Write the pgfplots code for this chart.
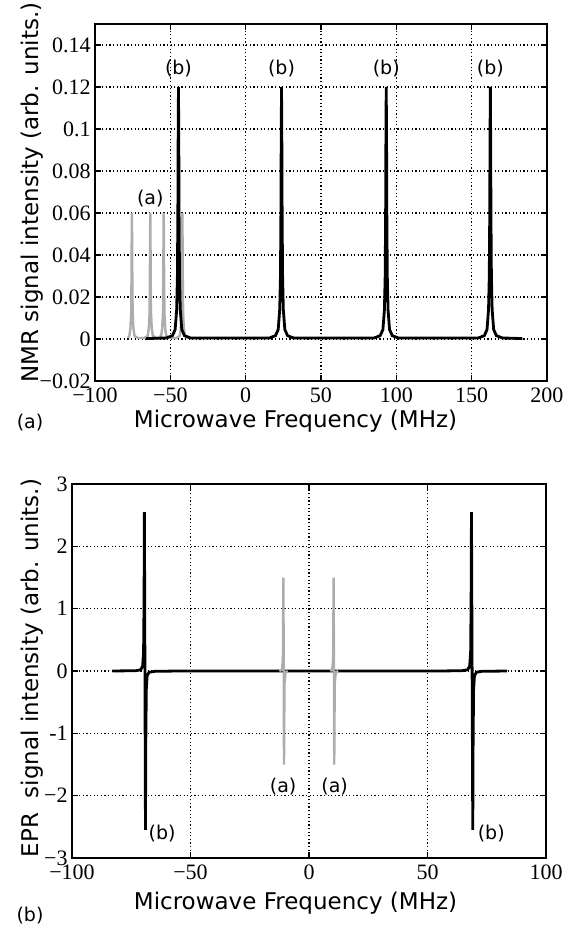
\documentclass[border=0pt]{standalone}
\usepackage{fontspec}
\setmainfont{Liberation Serif}
\newfontfamily\lblfont{DejaVu Sans}
\usepackage{pgfplots}
\pgfplotsset{compat=1.18}
\definecolor{ltgray}{HTML}{ADADAD}

\pgfplotsset{
  matstyle/.style={
    scale only axis,
    axis line style={line width=1.3pt},
    tick align=inside, tick pos=both,
    major tick length=3pt,
    every tick/.style={black, line width=0.7pt},
    grid=major,
    major grid style={black, line width=0.6pt, dash pattern=on 0.6pt off 1.2pt},
    tick label style={font=\fontsize{11}{13}\selectfont, inner sep=1pt},
    xticklabel style={yshift=-2pt},
    yticklabel style={xshift=-1pt},
    /pgf/number format/assume math mode=true,
    label style={font=\lblfont\fontsize{11.5}{13}\selectfont},
  }
}

\begin{document}
\begin{tikzpicture}
\useasboundingbox (0,0) rectangle (289.5pt,-464pt);

% ---- (a) NMR spectrum ----
\begin{axis}[matstyle,
  at={(47.5pt,-12pt)}, anchor=north west,
  width=226pt, height=178.5pt,
  xmin=-100, xmax=200, ymin=-0.02, ymax=0.15,
  xtick={-100,-50,0,50,100,150,200},
  xticklabels={−100,−50,0,50,100,150,200},
  ytick={-0.02,0,0.02,0.04,0.06,0.08,0.1,0.12,0.14},
  yticklabels={−0.02,0,0.02,0.04,0.06,0.08,0.1,0.12,0.14},
  xlabel={Microwave Frequency (MHz)},
  ylabel={NMR signal intensity (arb. units.)},
  xlabel style={at={(axis description cs:0.4436,-0.112)}, anchor=center},
  ylabel style={at={(axis description cs:-0.139,0.528)}, anchor=center},
]
\addplot[ltgray, line width=1.2pt] coordinates {
 (-78,0.0004) (-77.2,0.0015) (-76.5,0.005) (-76.0,0.012) (-75.8,0.026) (-75.65,0.045) (-75.5,0.06)
 (-75.35,0.045) (-75.2,0.026) (-75.0,0.012) (-74.5,0.005) (-73.8,0.0015) (-71.5,0.0005)
 (-67.3,0.0005) (-65.0,0.0015) (-64.3,0.005) (-63.8,0.012) (-63.6,0.026) (-63.45,0.045) (-63.3,0.06)
 (-63.15,0.045) (-63.0,0.026) (-62.8,0.012) (-62.3,0.005) (-61.6,0.0015) (-59.3,0.0005)
 (-58.4,0.0005) (-56.1,0.0015) (-55.4,0.005) (-54.9,0.012) (-54.7,0.026) (-54.55,0.045) (-54.4,0.06)
 (-54.25,0.045) (-54.1,0.026) (-53.9,0.012) (-53.4,0.005) (-52.7,0.0015) (-50.4,0.0005)
 (-46.0,0.0005) (-43.7,0.0015) (-43.0,0.005) (-42.5,0.012) (-42.3,0.026) (-42.15,0.045) (-42.0,0.06)
 (-41.85,0.045) (-41.7,0.026) (-41.5,0.012) (-41.0,0.005) (-40.3,0.0015) (-38,0.0004)
};
\addplot[black, line width=1.4pt] coordinates {
 (-66,0.0002)
 (-52.6,0.0005) (-48.6,0.0016) (-46.8,0.0045) (-45.8,0.014) (-45.3,0.03) (-45.0,0.06) (-44.8,0.097) (-44.6,0.12)
 (-44.4,0.097) (-44.2,0.06) (-43.9,0.03) (-43.4,0.014) (-42.4,0.0045) (-40.6,0.0016) (-36.6,0.0005)
 (15.8,0.0005) (19.8,0.0016) (21.6,0.0045) (22.6,0.014) (23.1,0.03) (23.4,0.06) (23.6,0.097) (23.8,0.12)
 (24.0,0.097) (24.2,0.06) (24.5,0.03) (25.0,0.014) (26.0,0.0045) (27.8,0.0016) (31.8,0.0005)
 (85.3,0.0005) (89.3,0.0016) (91.1,0.0045) (92.1,0.014) (92.6,0.03) (92.9,0.06) (93.1,0.097) (93.3,0.12)
 (93.5,0.097) (93.7,0.06) (94.0,0.03) (94.5,0.014) (95.5,0.0045) (97.3,0.0016) (101.3,0.0005)
 (154.4,0.0005) (158.4,0.0016) (160.2,0.0045) (161.2,0.014) (161.7,0.03) (162.0,0.06) (162.2,0.097) (162.4,0.12)
 (162.6,0.097) (162.8,0.06) (163.1,0.03) (163.6,0.014) (164.6,0.0045) (166.4,0.0016) (170.4,0.0005)
 (183.7,0.0002)
};
\begin{scope}[every node/.style={font=\lblfont\fontsize{9.5}{11}\selectfont}]
\node at (axis cs:-44.6,0.129) {(b)};
\node at (axis cs:23.8,0.129) {(b)};
\node at (axis cs:93.3,0.129) {(b)};
\node at (axis cs:162.4,0.129) {(b)};
\node at (axis cs:-63.3,0.067) {(a)};
\end{scope}
\end{axis}

% ---- (b) EPR spectrum ----
\begin{axis}[matstyle,
  at={(36pt,-242pt)}, anchor=north west,
  width=237pt, height=187pt,
  xmin=-100, xmax=100, ymin=-3, ymax=3,
  xtick={-100,-50,0,50,100},
  xticklabels={−100,−50,0,50,100},
  ytick={-3,-2,-1,0,1,2,3},
  yticklabels={−3,−2,-1,0,1,2,3},
  xlabel={Microwave Frequency (MHz)},
  ylabel={EPR\ \ signal intensity (arb. units.)},
  xlabel style={at={(axis description cs:0.4715,-0.12)}, anchor=center},
  ylabel style={at={(axis description cs:-0.0844,0.508)}, anchor=center},
]
\addplot[black, line width=1.4pt] coordinates {
 (-83,0) (-73,0.005) (-71,0.02) (-70.2,0.08) (-69.8,0.3) (-69.6,1.1) (-69.45,2.55)
 (-69.0,-2.55) (-68.85,-1.1) (-68.65,-0.3) (-68.3,-0.08) (-67.5,-0.02) (-65,-0.005) (-55,0)
 (55,0) (64.5,0.005) (67.0,0.02) (67.8,0.08) (68.2,0.3) (68.4,1.1) (68.55,2.55)
 (69.1,-2.55) (69.25,-1.1) (69.45,-0.3) (69.8,-0.08) (70.6,-0.02) (73,-0.005) (83.6,0)
};
\addplot[ltgray, line width=1.2pt] coordinates {
 (-12.5,0) (-11.4,0.02) (-11.0,0.2) (-10.8,1.5) (-10.55,-1.5) (-10.35,-0.2) (-9.9,-0.02) (-9,0)
};
\addplot[ltgray, line width=1.2pt] coordinates {
 (9,0) (9.8,0.02) (10.2,0.2) (10.4,1.5) (10.65,-1.5) (10.85,-0.2) (11.3,-0.02) (12.3,0)
};
\begin{scope}[every node/.style={font=\lblfont\fontsize{9.5}{11}\selectfont}]
\node at (axis cs:-62,-2.61) {(b)};
\node at (axis cs:76.9,-2.61) {(b)};
\node at (axis cs:-10.9,-1.85) {(a)};
\node at (axis cs:10.8,-1.85) {(a)};
\end{scope}
\end{axis}

% panel letters
\node[font=\lblfont\fontsize{9.5}{11}\selectfont] at (15pt,-211.5pt) {(a)};
\node[font=\lblfont\fontsize{9.5}{11}\selectfont] at (15pt,-458pt) {(b)};
\end{tikzpicture}
\end{document}
